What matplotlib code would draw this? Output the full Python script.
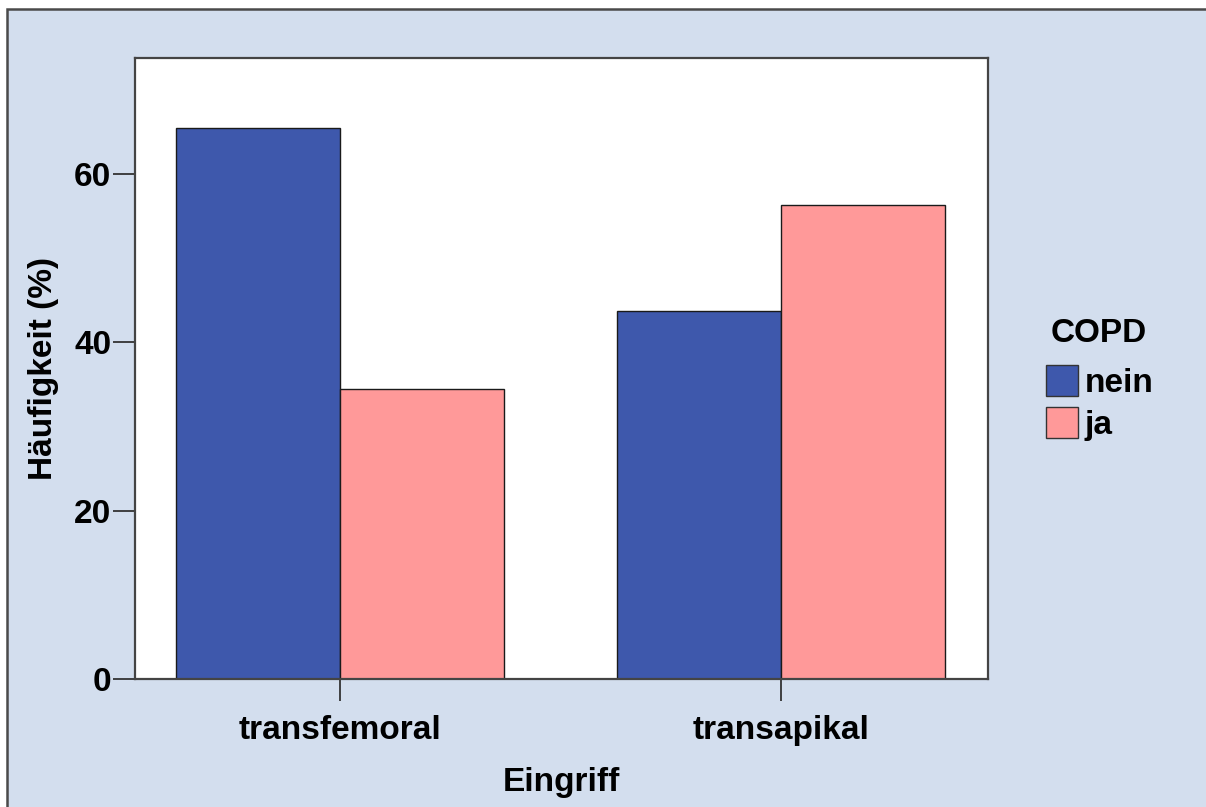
import numpy as np
import matplotlib.pyplot as plt
from matplotlib.patches import Rectangle

plt.rcParams['font.family'] = ['Liberation Sans', 'DejaVu Sans']
plt.rcParams['font.weight'] = 'bold'

categories = ['transfemoral', 'transapikal']
groups = ['nein', 'ja']
nein = [65.5, 43.7]
ja = [34.5, 56.3]
colors = ['#3E58AC', '#FF9999']

W, H = 1206, 807
fs = 24
fig = plt.figure(figsize=(W / 100, H / 100), dpi=100)
fig.patch.set_facecolor('white')

# light blue panel with dark border on top/left
bg = Rectangle((7 / W, -0.05), 1.2, 1 - 9 / H + 0.05, transform=fig.transFigure,
               facecolor='#D3DEEE', edgecolor='#4a4a4a', linewidth=1.8, zorder=-10)
fig.patches.append(bg)

ax = fig.add_axes([135 / W, 1 - 679 / H, (988 - 135) / W, (679 - 58) / H])
ax.set_zorder(1)
ax.set_facecolor('white')

x = np.arange(len(categories))
w = 0.372
ax.bar(x - w / 2, nein, w, color=colors[0], edgecolor='#1a1a1a', linewidth=1, label=groups[0])
ax.bar(x + w / 2, ja, w, color=colors[1], edgecolor='#1a1a1a', linewidth=1, label=groups[1])

ax.set_xlim(-0.465, 1.469)
ax.set_ylim(0, 73.8)
ax.set_yticks([0, 20, 40, 60])
ax.set_xticks(x)
ax.set_xticklabels(categories)

for s in ax.spines.values():
    s.set_color('#444444')
    s.set_linewidth(1.6)

ax.tick_params(axis='y', length=16, width=1.3, color='#333333', labelsize=fs, pad=1)
ax.tick_params(axis='x', length=16, width=1.3, color='#333333', labelsize=fs, pad=10)
for lab in ax.get_xticklabels() + ax.get_yticklabels():
    lab.set_fontweight('bold')

ax.set_ylabel('Häufigkeit (%)', fontsize=fs, fontweight='bold', labelpad=11)
ax.set_xlabel('Eingriff', fontsize=fs, fontweight='bold', labelpad=15)

fig.text(1099 / W, 1 - 333 / H, 'COPD', fontsize=fs, fontweight='bold',
         ha='center', va='center')
leg = ax.legend(loc='upper left', bbox_to_anchor=(1046 / W, 1 - 365 / H),
                bbox_transform=fig.transFigure,
                frameon=False, fontsize=fs,
                handlelength=0.95, handleheight=1.05, handletextpad=0.2,
                labelspacing=0.25, borderaxespad=0, borderpad=0)
for p in leg.get_patches():
    p.set_edgecolor('#333333')

fig.savefig('out.png', dpi=100, facecolor=fig.get_facecolor())
